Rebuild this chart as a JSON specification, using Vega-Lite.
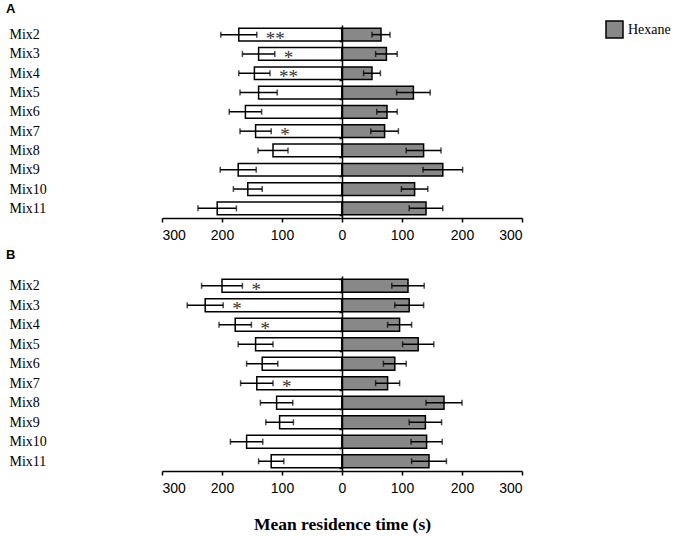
{
  "$schema": "https://vega.github.io/schema/vega-lite/v6.json",
  "padding": {"left": 6, "top": 3, "right": 5, "bottom": 2},
  "datasets": {
    "residence": [
      {"panel": "A", "mix": "Mix2", "side": "Mix", "mean": 172, "sd": 30, "sig": "**"},
      {"panel": "A", "mix": "Mix3", "side": "Mix", "mean": 139, "sd": 27, "sig": "*"},
      {"panel": "A", "mix": "Mix4", "side": "Mix", "mean": 146, "sd": 26, "sig": "**"},
      {"panel": "A", "mix": "Mix5", "side": "Mix", "mean": 139, "sd": 31, "sig": ""},
      {"panel": "A", "mix": "Mix6", "side": "Mix", "mean": 161, "sd": 27, "sig": ""},
      {"panel": "A", "mix": "Mix7", "side": "Mix", "mean": 144, "sd": 26, "sig": "*"},
      {"panel": "A", "mix": "Mix8", "side": "Mix", "mean": 115, "sd": 25, "sig": ""},
      {"panel": "A", "mix": "Mix9", "side": "Mix", "mean": 173, "sd": 30, "sig": ""},
      {"panel": "A", "mix": "Mix10", "side": "Mix", "mean": 157, "sd": 24, "sig": ""},
      {"panel": "A", "mix": "Mix11", "side": "Mix", "mean": 208, "sd": 32, "sig": ""},
      {"panel": "A", "mix": "Mix2", "side": "Hexane", "mean": 65, "sd": 15, "sig": ""},
      {"panel": "A", "mix": "Mix3", "side": "Hexane", "mean": 74, "sd": 18, "sig": ""},
      {"panel": "A", "mix": "Mix4", "side": "Hexane", "mean": 50, "sd": 14, "sig": ""},
      {"panel": "A", "mix": "Mix5", "side": "Hexane", "mean": 119, "sd": 28, "sig": ""},
      {"panel": "A", "mix": "Mix6", "side": "Hexane", "mean": 75, "sd": 17, "sig": ""},
      {"panel": "A", "mix": "Mix7", "side": "Hexane", "mean": 71, "sd": 23, "sig": ""},
      {"panel": "A", "mix": "Mix8", "side": "Hexane", "mean": 136, "sd": 29, "sig": ""},
      {"panel": "A", "mix": "Mix9", "side": "Hexane", "mean": 168, "sd": 33, "sig": ""},
      {"panel": "A", "mix": "Mix10", "side": "Hexane", "mean": 121, "sd": 22, "sig": ""},
      {"panel": "A", "mix": "Mix11", "side": "Hexane", "mean": 140, "sd": 28, "sig": ""},
      {"panel": "B", "mix": "Mix2", "side": "Mix", "mean": 200, "sd": 34, "sig": "*"},
      {"panel": "B", "mix": "Mix3", "side": "Mix", "mean": 228, "sd": 30, "sig": "*"},
      {"panel": "B", "mix": "Mix4", "side": "Mix", "mean": 178, "sd": 27, "sig": "*"},
      {"panel": "B", "mix": "Mix5", "side": "Mix", "mean": 144, "sd": 29, "sig": ""},
      {"panel": "B", "mix": "Mix6", "side": "Mix", "mean": 133, "sd": 26, "sig": ""},
      {"panel": "B", "mix": "Mix7", "side": "Mix", "mean": 142, "sd": 27, "sig": "*"},
      {"panel": "B", "mix": "Mix8", "side": "Mix", "mean": 109, "sd": 27, "sig": ""},
      {"panel": "B", "mix": "Mix9", "side": "Mix", "mean": 104, "sd": 23, "sig": ""},
      {"panel": "B", "mix": "Mix10", "side": "Mix", "mean": 159, "sd": 27, "sig": ""},
      {"panel": "B", "mix": "Mix11", "side": "Mix", "mean": 118, "sd": 21, "sig": ""},
      {"panel": "B", "mix": "Mix2", "side": "Hexane", "mean": 110, "sd": 27, "sig": ""},
      {"panel": "B", "mix": "Mix3", "side": "Hexane", "mean": 112, "sd": 24, "sig": ""},
      {"panel": "B", "mix": "Mix4", "side": "Hexane", "mean": 96, "sd": 20, "sig": ""},
      {"panel": "B", "mix": "Mix5", "side": "Hexane", "mean": 127, "sd": 26, "sig": ""},
      {"panel": "B", "mix": "Mix6", "side": "Hexane", "mean": 88, "sd": 19, "sig": ""},
      {"panel": "B", "mix": "Mix7", "side": "Hexane", "mean": 76, "sd": 20, "sig": ""},
      {"panel": "B", "mix": "Mix8", "side": "Hexane", "mean": 170, "sd": 30, "sig": ""},
      {"panel": "B", "mix": "Mix9", "side": "Hexane", "mean": 139, "sd": 27, "sig": ""},
      {"panel": "B", "mix": "Mix10", "side": "Hexane", "mean": 141, "sd": 26, "sig": ""},
      {"panel": "B", "mix": "Mix11", "side": "Hexane", "mean": 145, "sd": 29, "sig": ""}
    ]
  },
  "data": {"name": "residence"},
  "transform": [
    {"calculate": "datum.side == 'Mix' ? -datum.mean : datum.mean", "as": "signed"},
    {"calculate": "datum.side == 'Mix' ? -datum.mean + datum.sd : datum.mean - datum.sd", "as": "inner"}
  ],
  "spacing": 7,
  "vconcat": [
    {
      "title": {"text": "A", "anchor": "start", "frame": "bounds", "dx": -3, "offset": 2, "font": "Liberation Sans", "fontSize": 13, "fontWeight": "bold", "color": "black"},
      "width": 360,
      "height": 193,
      "transform": [{"filter": "datum.panel == 'A'"}],
      "encoding": {
        "y": {
          "field": "mix",
          "type": "nominal",
          "sort": ["Mix2", "Mix3", "Mix4", "Mix5", "Mix6", "Mix7", "Mix8", "Mix9", "Mix10", "Mix11"],
          "scale": {"paddingInner": 0.34, "paddingOuter": 0.17},
          "axis": {"title": null, "offset": -180, "tickBand": "extent", "tickSize": 3, "tickWidth": 1.5, "tickColor": "black", "domainColor": "black", "domainWidth": 1.5, "labelAlign": "left", "labelPadding": 330, "labelFont": "Liberation Serif", "labelFontSize": 14, "labelColor": "black", "zindex": 1}
        }
      },
      "layer": [
        {
          "mark": {"type": "bar", "stroke": "black", "strokeWidth": 1.5},
          "encoding": {
            "x": {
              "field": "signed",
              "type": "quantitative",
              "scale": {"domain": [-300, 300], "nice": false},
              "axis": {"title": null, "values": [-300, -200, -100, 0, 100, 200, 300], "labelExpr": "abs(datum.value)", "grid": false, "domainColor": "black", "domainWidth": 1.5, "tickColor": "black", "tickWidth": 1.5, "tickSize": 4, "labelPadding": 6, "labelFont": "Liberation Sans", "labelFontSize": 14, "labelColor": "black"}
            },
            "color": {
              "field": "side",
              "type": "nominal",
              "scale": {"domain": ["Mix", "Hexane"], "range": ["#ffffff", "#888888"]},
              "legend": {"values": ["Hexane"], "title": null, "orient": "none", "legendX": 443, "legendY": -5, "symbolType": "square", "symbolSize": 289, "symbolStrokeColor": "black", "symbolStrokeWidth": 1.5, "labelFont": "Liberation Serif", "labelFontSize": 14, "labelColor": "black"}
            }
          }
        },
        {
          "mark": {"type": "errorbar", "ticks": {"size": 6}, "thickness": 1.5, "color": "black"},
          "encoding": {
            "x": {"field": "signed", "type": "quantitative", "title": null},
            "xError": {"field": "sd"}
          }
        },
        {
          "transform": [{"filter": "datum.sig != ''"}],
          "mark": {"type": "text", "align": "left", "baseline": "middle", "dx": 9, "dy": 4, "font": "Liberation Serif", "fontSize": 19, "color": "#333333"},
          "encoding": {
            "x": {"field": "inner", "type": "quantitative", "title": null},
            "text": {"field": "sig", "type": "nominal"}
          }
        }
      ]
    },
    {
      "title": {"text": "B", "anchor": "start", "frame": "bounds", "dx": -3, "offset": 7, "font": "Liberation Sans", "fontSize": 13, "fontWeight": "bold", "color": "black"},
      "width": 360,
      "height": 195,
      "transform": [{"filter": "datum.panel == 'B'"}],
      "encoding": {
        "y": {
          "field": "mix",
          "type": "nominal",
          "sort": ["Mix2", "Mix3", "Mix4", "Mix5", "Mix6", "Mix7", "Mix8", "Mix9", "Mix10", "Mix11"],
          "scale": {"paddingInner": 0.34, "paddingOuter": 0.17},
          "axis": {"title": null, "offset": -180, "tickBand": "extent", "tickSize": 3, "tickWidth": 1.5, "tickColor": "black", "domainColor": "black", "domainWidth": 1.5, "labelAlign": "left", "labelPadding": 330, "labelFont": "Liberation Serif", "labelFontSize": 14, "labelColor": "black", "zindex": 1}
        }
      },
      "layer": [
        {
          "mark": {"type": "bar", "stroke": "black", "strokeWidth": 1.5},
          "encoding": {
            "x": {
              "field": "signed",
              "type": "quantitative",
              "scale": {"domain": [-300, 300], "nice": false},
              "axis": {"title": "Mean residence time (s)", "values": [-300, -200, -100, 0, 100, 200, 300], "labelExpr": "abs(datum.value)", "grid": false, "domainColor": "black", "domainWidth": 1.5, "tickColor": "black", "tickWidth": 1.5, "tickSize": 4, "labelPadding": 6, "labelFont": "Liberation Sans", "labelFontSize": 14, "labelColor": "black", "titleFont": "Liberation Serif", "titleFontSize": 17.5, "titleFontWeight": "bold", "titleColor": "black", "titlePadding": 20}
            },
            "color": {
              "field": "side",
              "type": "nominal",
              "scale": {"domain": ["Mix", "Hexane"], "range": ["#ffffff", "#888888"]},
              "legend": {"values": ["Hexane"], "title": null, "orient": "none", "legendX": 443, "legendY": -5, "symbolType": "square", "symbolSize": 289, "symbolStrokeColor": "black", "symbolStrokeWidth": 1.5, "labelFont": "Liberation Serif", "labelFontSize": 14, "labelColor": "black"}
            }
          }
        },
        {
          "mark": {"type": "errorbar", "ticks": {"size": 6}, "thickness": 1.5, "color": "black"},
          "encoding": {
            "x": {"field": "signed", "type": "quantitative", "title": "Mean residence time (s)"},
            "xError": {"field": "sd"}
          }
        },
        {
          "transform": [{"filter": "datum.sig != ''"}],
          "mark": {"type": "text", "align": "left", "baseline": "middle", "dx": 9, "dy": 4, "font": "Liberation Serif", "fontSize": 19, "color": "#333333"},
          "encoding": {
            "x": {"field": "inner", "type": "quantitative", "title": "Mean residence time (s)"},
            "text": {"field": "sig", "type": "nominal"}
          }
        }
      ]
    }
  ],
  "config": {"view": {"stroke": null}}
}
